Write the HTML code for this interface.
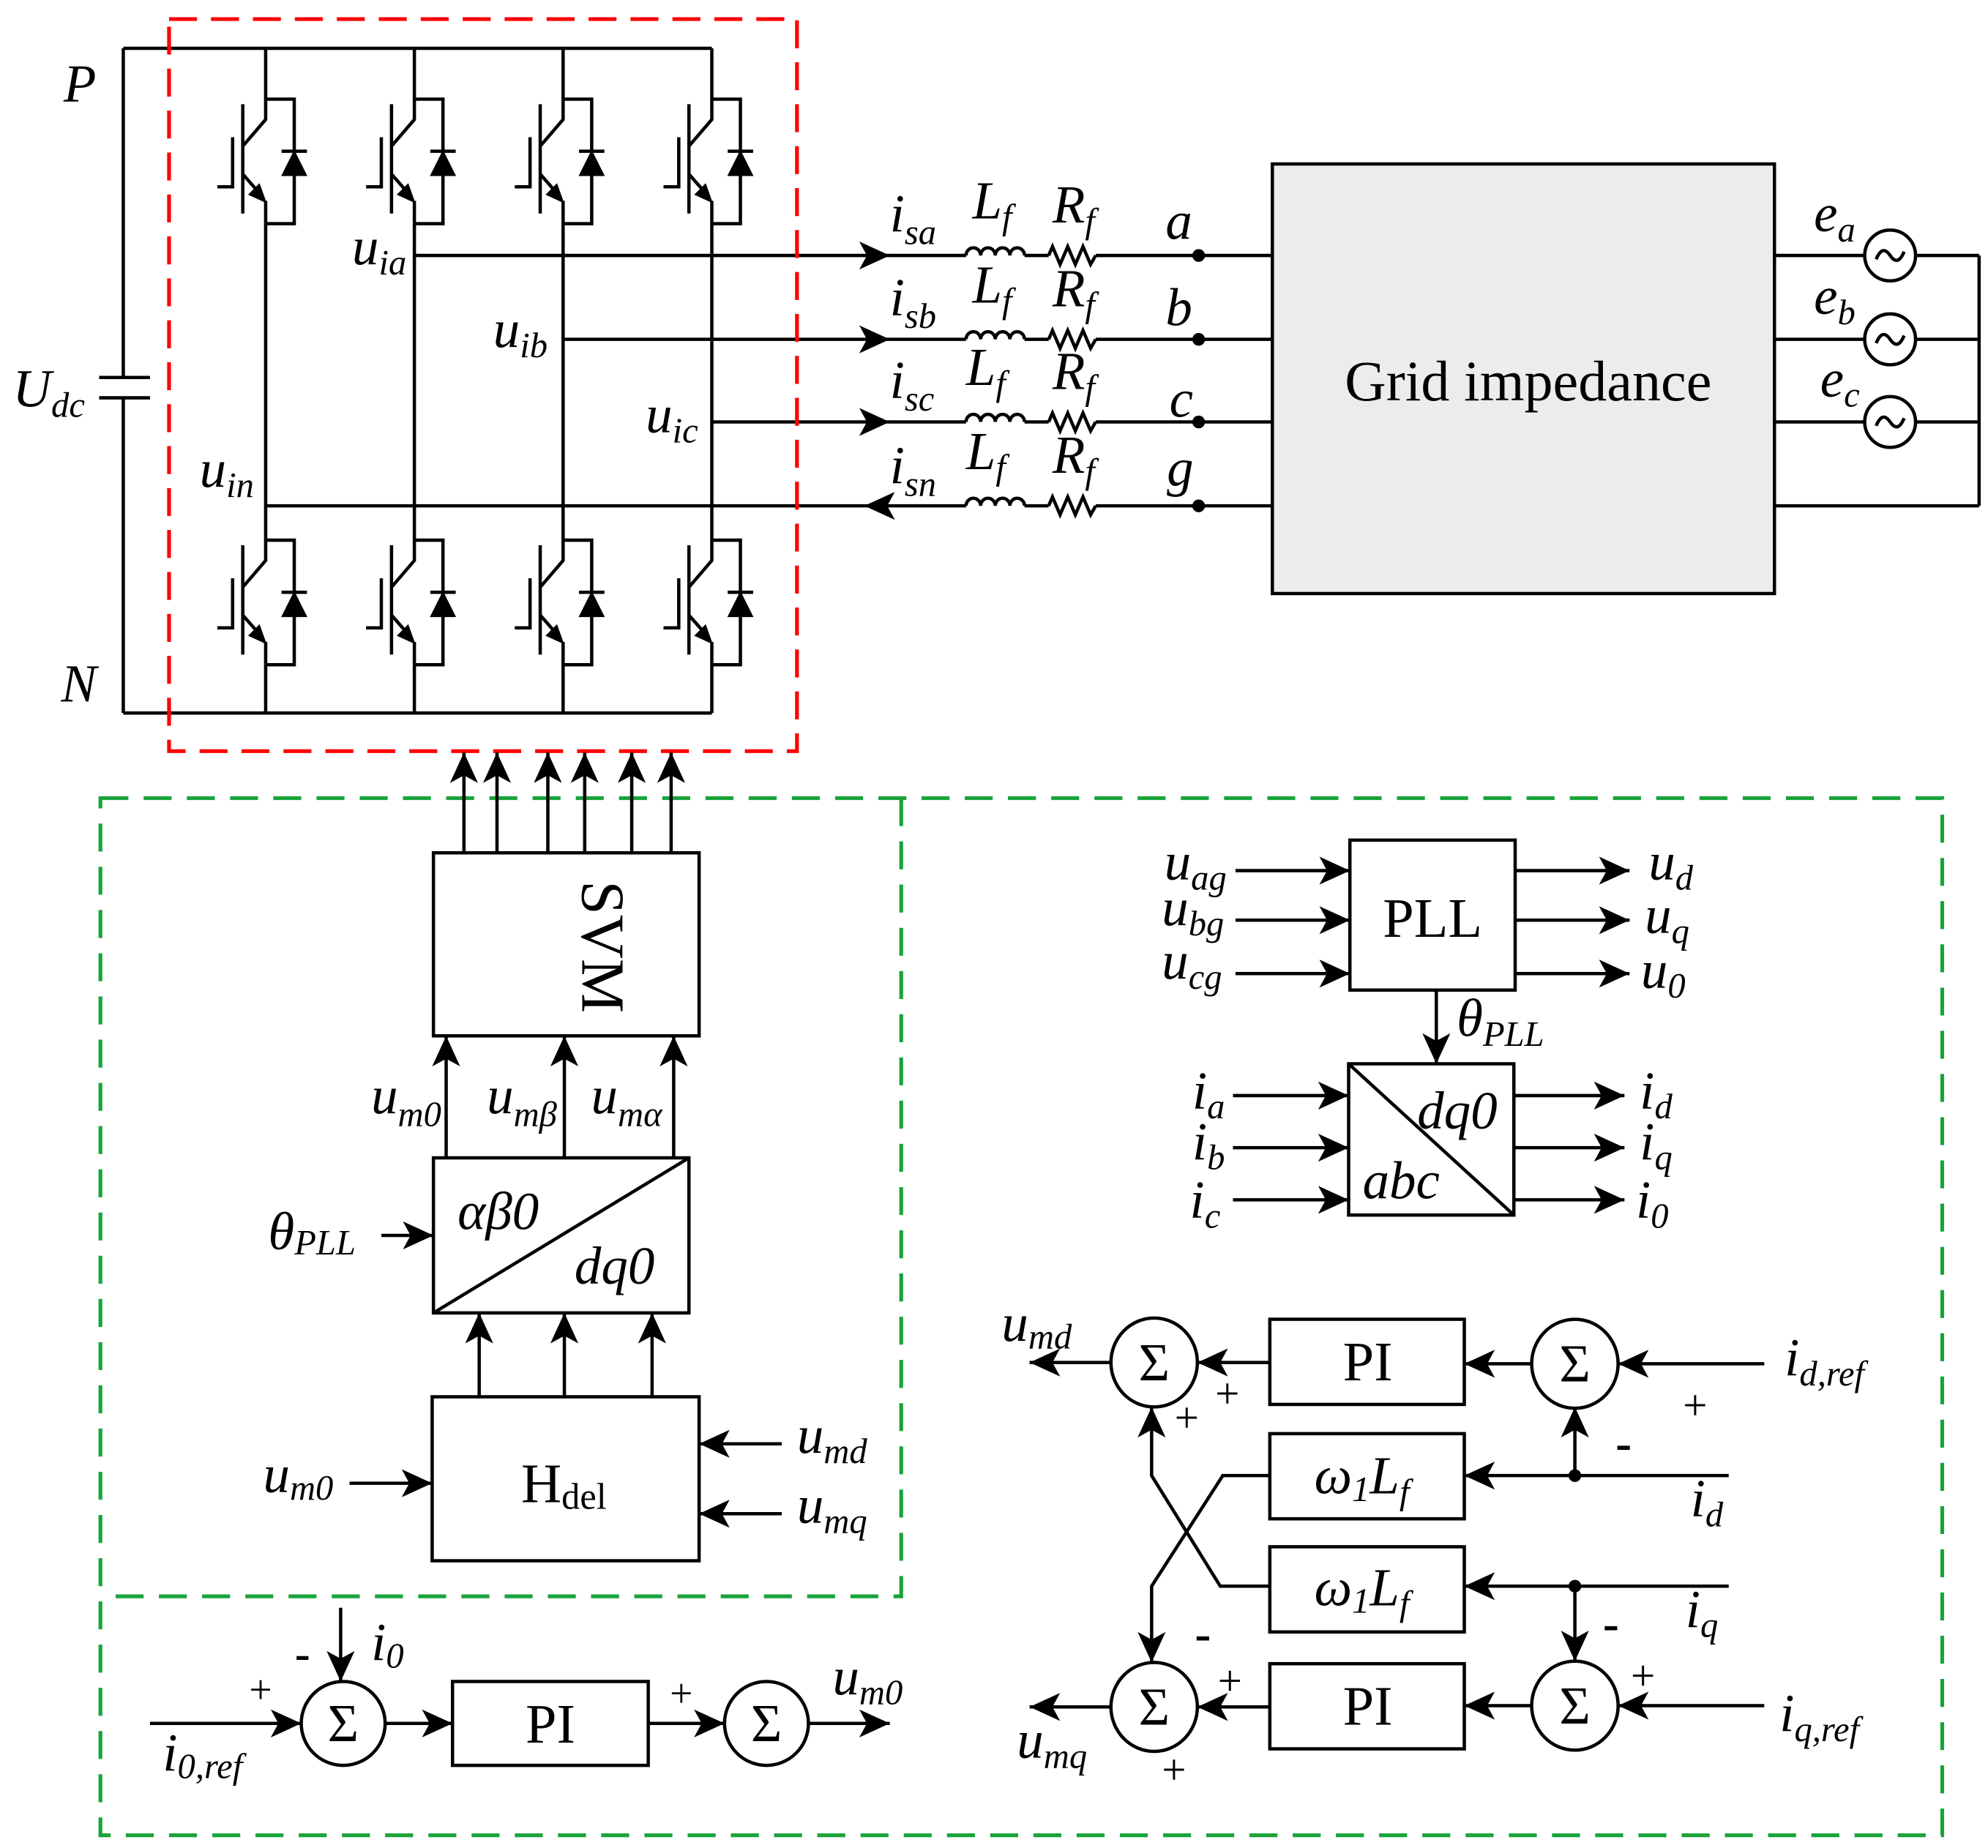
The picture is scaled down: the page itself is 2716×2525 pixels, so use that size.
<!DOCTYPE html>
<html><head><meta charset="utf-8"><style>
html,body{margin:0;padding:0;background:#fff}
svg{display:block}
text{font-family:"Liberation Serif",serif;fill:#000}
.m{font-style:italic;font-size:42px}
.s{font-size:28px}
</style></head><body>
<svg xmlns="http://www.w3.org/2000/svg" width="2716" height="2525" viewBox="0 0 1564 1454">
<defs>
<marker id="ar" markerUnits="userSpaceOnUse" markerWidth="26" markerHeight="22" refX="24" refY="11" orient="auto">
<path d="M0,0 L24,11 L0,22 L6,11 Z" fill="#000"/>
</marker>
<g id="sw" stroke="#000" stroke-width="2.6" fill="none">
<path d="M0,0 V16 L-18,37 M-18,4 V90 M-26,30 V69 H-38 M-18,59 L-4,75 M0,80 V98 M0,0 H22.5 V98 H0"/>
<path d="M0,81 L-13,75 L-5,67 Z" fill="#000" stroke-width="1"/>
<path d="M12.5,41 H32.5"/>
<path d="M22.5,41 L13,60 H32 Z" fill="#000" stroke-width="1"/>
</g>
</defs>
<g stroke="#000" stroke-width="2.6" fill="none">
<path d="M97,38 H560 M97,561 H560 M97,38 V297 M97,313 V561 M78,297 H118 M78,313 H118"/>
<path d="M209,38 V78 M326,38 V78 M443,38 V78 M560,38 V78"/>
<path d="M209,176 V425 M326,176 V425 M443,176 V425 M560,176 V425"/>
<path d="M209,523 V561 M326,523 V561 M443,523 V561 M560,523 V561"/>
<path d="M326,201 H700" marker-end="url(#ar)"/><path d="M700,201 H760 M806,201 H825 M862,201 H1001"/>
<path d="M443,267 H700" marker-end="url(#ar)"/><path d="M700,267 H760 M806,267 H825 M862,267 H1001"/>
<path d="M560,332 H700" marker-end="url(#ar)"/><path d="M700,332 H760 M806,332 H825 M862,332 H1001"/>
<path d="M760,398 H680" marker-end="url(#ar)"/><path d="M209,398 H680 M806,398 H825 M862,398 H1001"/>
<g id="lr"><path d="M760,201 a5.75,6 0 0 1 11.5,0 a5.75,6 0 0 1 11.5,0 a5.75,6 0 0 1 11.5,0 a5.75,6 0 0 1 11.5,0"/>
<path d="M825,201 l3,-7 l6,14 l6,-14 l6,14 l6,-14 l6,14 l4,-7"/></g>
<use href="#lr" y="66"/><use href="#lr" y="131"/><use href="#lr" y="197"/>
<rect x="1001" y="129" width="395" height="338" fill="#ececec"/>
<path d="M1396,201 H1467 M1507,201 H1557 M1396,267 H1467 M1507,267 H1557 M1396,332 H1467 M1507,332 H1557 M1396,398 H1557 M1557,201 V398"/>
<circle cx="1487" cy="201" r="20"/><circle cx="1487" cy="267" r="20"/><circle cx="1487" cy="332" r="20"/>
<path d="M1476,204 q5,-12 11,-3 q6,9 11,-3"/><path d="M1476,270 q5,-12 11,-3 q6,9 11,-3"/><path d="M1476,335 q5,-12 11,-3 q6,9 11,-3"/>
</g>
<g fill="#000"><circle cx="943" cy="201" r="5"/><circle cx="943" cy="267" r="5"/><circle cx="943" cy="332" r="5"/><circle cx="943" cy="398" r="5"/></g>
<use href="#sw" x="209" y="78"/><use href="#sw" x="326" y="78"/><use href="#sw" x="443" y="78"/><use href="#sw" x="560" y="78"/>
<use href="#sw" x="209" y="425"/><use href="#sw" x="326" y="425"/><use href="#sw" x="443" y="425"/><use href="#sw" x="560" y="425"/>
<rect x="133" y="15" width="494" height="576" fill="none" stroke="#ff0000" stroke-width="3" stroke-dasharray="22,11"/>
<g fill="none" stroke="#1aa33c" stroke-width="3" stroke-dasharray="22,12">
<rect x="79" y="628" width="1449" height="816"/>
<path d="M709,628 V1256 H79"/>
</g>
<text class="m" x="50" y="80">P</text>
<text class="m" x="48" y="552">N</text>
<text class="m" x="10" y="320">U<tspan class="s" dy="8">dc</tspan></text>
<text class="m" x="277" y="208">u<tspan class="s" dy="8">ia</tspan></text>
<text class="m" x="388" y="273">u<tspan class="s" dy="8">ib</tspan></text>
<text class="m" x="508" y="340">u<tspan class="s" dy="8">ic</tspan></text>
<text class="m" x="157" y="383">u<tspan class="s" dy="8">in</tspan></text>
<text class="m" x="700" y="182">i<tspan class="s" dy="10">sa</tspan></text>
<text class="m" x="700" y="248">i<tspan class="s" dy="10">sb</tspan></text>
<text class="m" x="700" y="313">i<tspan class="s" dy="10">sc</tspan></text>
<text class="m" x="700" y="380">i<tspan class="s" dy="10">sn</tspan></text>
<text class="m" x="765" y="172">L<tspan class="s" dy="8">f</tspan></text>
<text class="m" x="765" y="238">L<tspan class="s" dy="8">f</tspan></text>
<text class="m" x="760" y="303">L<tspan class="s" dy="8">f</tspan></text>
<text class="m" x="760" y="369">L<tspan class="s" dy="8">f</tspan></text>
<text class="m" x="828" y="175">R<tspan class="s" dy="8">f</tspan></text>
<text class="m" x="828" y="241">R<tspan class="s" dy="8">f</tspan></text>
<text class="m" x="828" y="306">R<tspan class="s" dy="8">f</tspan></text>
<text class="m" x="828" y="372">R<tspan class="s" dy="8">f</tspan></text>
<text class="m" x="917" y="188">a</text>
<text class="m" x="917" y="256">b</text>
<text class="m" x="920" y="328">c</text>
<text class="m" x="918" y="382">g</text>
<text x="1058" y="315" font-size="45">Grid impedance</text>
<text class="m" x="1427" y="182">e<tspan class="s" dy="8">a</tspan></text>
<text class="m" x="1427" y="247">e<tspan class="s" dy="8">b</tspan></text>
<text class="m" x="1432" y="312">e<tspan class="s" dy="8">c</tspan></text>
<g stroke="#000" stroke-width="2.6" fill="none">
<g marker-end="url(#ar)">
<path d="M365,671 V592"/><path d="M391,671 V592"/><path d="M431,671 V592"/><path d="M460,671 V592"/><path d="M497,671 V592"/><path d="M528,671 V592"/>
<path d="M351,911 V815"/><path d="M444,911 V815"/><path d="M530,911 V815"/>
<path d="M300,972 H341"/>
<path d="M377,1099 V1033"/><path d="M444,1099 V1033"/><path d="M513,1099 V1033"/>
<path d="M275,1167 H340"/><path d="M615,1136 H550"/><path d="M615,1191 H550"/>
<path d="M118,1356 H237"/><path d="M268,1265 V1323"/><path d="M303,1356 H356"/><path d="M510,1356 H570"/><path d="M636,1356 H700"/>
</g>
<rect x="341" y="671" width="209" height="144"/>
<rect x="341" y="911" width="201" height="122"/>
<path d="M341,1033 L542,911"/>
<rect x="340" y="1099" width="210" height="129"/>
<circle cx="270" cy="1356" r="33"/>
<rect x="356" y="1323" width="154" height="66"/>
<circle cx="603" cy="1356" r="33"/>
</g>
<text x="458" y="745" font-size="48" transform="rotate(90 458 745)" text-anchor="middle">SVM</text>
<text class="m" x="292" y="876">u<tspan class="s" dy="10">m0</tspan></text>
<text class="m" x="383" y="876">u<tspan class="s" dy="10">mβ</tspan></text>
<text class="m" x="465" y="876">u<tspan class="s" dy="10">mα</tspan></text>
<text class="m" x="360" y="967">αβ0</text>
<text class="m" x="452" y="1010">dq0</text>
<text class="m" x="211" y="983">θ<tspan class="s" dy="4">PLL</tspan></text>
<text x="410" y="1182" font-size="44">H<tspan font-size="29" dy="5">del</tspan></text>
<text class="m" x="207" y="1174">u<tspan class="s" dy="6">m0</tspan></text>
<text class="m" x="627" y="1143">u<tspan class="s" dy="8">md</tspan></text>
<text class="m" x="627" y="1198">u<tspan class="s" dy="8">mq</tspan></text>
<text x="270" y="1370" font-size="42" text-anchor="middle">Σ</text>
<text x="603" y="1370" font-size="42" text-anchor="middle">Σ</text>
<text x="433" y="1371" font-size="44" text-anchor="middle">PI</text>
<text class="m" x="292" y="1306">i<tspan class="s" dy="6">0</tspan></text>
<text class="m" x="128" y="1393">i<tspan class="s" dy="6">0,ref</tspan></text>
<text x="196" y="1340" font-size="32">+</text>
<text x="232" y="1313" font-size="36" font-weight="bold">-</text>
<text x="527" y="1343" font-size="32">+</text>
<text class="m" x="655" y="1333">u<tspan class="s" dy="8">m0</tspan></text>
<g stroke="#000" stroke-width="2.6" fill="none">
<rect x="1062" y="661" width="130" height="118"/>
<rect x="1061" y="837" width="130" height="119"/>
<path d="M1061,837 L1191,956"/>
<g marker-end="url(#ar)">
<path d="M972,685 H1062"/><path d="M972,724 H1062"/><path d="M972,766 H1062"/>
<path d="M1192,685 H1282"/><path d="M1192,724 H1282"/><path d="M1192,766 H1282"/>
<path d="M1130,779 V837"/>
<path d="M970,862 H1061"/><path d="M970,903 H1061"/><path d="M970,944 H1061"/>
<path d="M1191,862 H1278"/><path d="M1191,903 H1278"/><path d="M1191,944 H1278"/>
</g>
</g>
<text x="1127" y="737" font-size="44" text-anchor="middle">PLL</text>
<text class="m" x="916" y="692">u<tspan class="s" dy="8">ag</tspan></text>
<text class="m" x="914" y="728">u<tspan class="s" dy="8">bg</tspan></text>
<text class="m" x="914" y="770">u<tspan class="s" dy="8">cg</tspan></text>
<text class="m" x="1297" y="692">u<tspan class="s" dy="8">d</tspan></text>
<text class="m" x="1294" y="734">u<tspan class="s" dy="8">q</tspan></text>
<text class="m" x="1291" y="777">u<tspan class="s" dy="8">0</tspan></text>
<text class="m" x="1146" y="815">θ<tspan class="s" dy="8">PLL</tspan></text>
<text class="m" x="1115" y="888">dq0</text>
<text class="m" x="1072" y="943">abc</text>
<text class="m" x="938" y="872">i<tspan class="s" dy="8">a</tspan></text>
<text class="m" x="938" y="912">i<tspan class="s" dy="8">b</tspan></text>
<text class="m" x="936" y="958">i<tspan class="s" dy="8">c</tspan></text>
<text class="m" x="1290" y="872">i<tspan class="s" dy="8">d</tspan></text>
<text class="m" x="1290" y="912">i<tspan class="s" dy="8">q</tspan></text>
<text class="m" x="1287" y="958">i<tspan class="s" dy="8">0</tspan></text>
<g stroke="#000" stroke-width="2.6" fill="none">
<ellipse cx="908" cy="1072" rx="34" ry="35"/>
<ellipse cx="1239" cy="1073" rx="34" ry="35"/>
<ellipse cx="908" cy="1343" rx="34" ry="35"/>
<ellipse cx="1239" cy="1342" rx="34" ry="35"/>
<rect x="999" y="1038" width="153" height="67"/>
<rect x="999" y="1128" width="153" height="67"/>
<rect x="999" y="1217" width="153" height="67"/>
<rect x="999" y="1309" width="153" height="67"/>
<g marker-end="url(#ar)">
<path d="M874,1072 H810"/><path d="M999,1072 H942"/><path d="M1205,1073 H1152"/><path d="M1388,1073 H1273"/>
<path d="M1360,1161 H1152"/><path d="M1239,1161 V1107"/><path d="M1360,1248 H1152"/><path d="M1239,1248 V1307"/>
<path d="M874,1343 H810"/><path d="M999,1343 H942"/><path d="M1205,1342 H1152"/><path d="M1388,1342 H1273"/>
<path d="M999,1161 H962 L906,1248 V1308"/>
<path d="M999,1248 H960 L906,1161 V1107"/>
</g>
</g>
<g fill="#000"><circle cx="1239" cy="1161" r="5"/><circle cx="1239" cy="1248" r="5"/></g>
<g font-size="42" text-anchor="middle"><text x="908" y="1086">Σ</text><text x="1239" y="1087">Σ</text><text x="908" y="1357">Σ</text><text x="1239" y="1356">Σ</text></g>
<text x="1076" y="1086" font-size="44" text-anchor="middle">PI</text>
<text x="1076" y="1357" font-size="44" text-anchor="middle">PI</text>
<text class="m" x="1034" y="1175">ω<tspan class="s" dy="6">1</tspan><tspan dy="-6">L</tspan><tspan class="s" dy="8">f</tspan></text>
<text class="m" x="1034" y="1263">ω<tspan class="s" dy="6">1</tspan><tspan dy="-6">L</tspan><tspan class="s" dy="8">f</tspan></text>
<text class="m" x="788" y="1055">u<tspan class="s" dy="6">md</tspan></text>
<text class="m" x="800" y="1383">u<tspan class="s" dy="8">mq</tspan></text>
<text class="m" x="1404" y="1082">i<tspan class="s" dy="8">d,ref</tspan></text>
<text class="m" x="1400" y="1362">i<tspan class="s" dy="8">q,ref</tspan></text>
<text class="m" x="1330" y="1193">i<tspan class="s" dy="8">d</tspan></text>
<text class="m" x="1326" y="1280">i<tspan class="s" dy="8">q</tspan></text>
<g font-size="34"><text x="956" y="1108">+</text><text x="924" y="1127">+</text><text x="1324" y="1117">+</text><text x="958" y="1334">+</text><text x="1283" y="1330">+</text><text x="914" y="1404">+</text></g>
<g font-size="38" font-weight="bold"><text x="1271" y="1148">-</text><text x="1261" y="1290">-</text><text x="940" y="1298">-</text></g>
</svg>
</body></html>
